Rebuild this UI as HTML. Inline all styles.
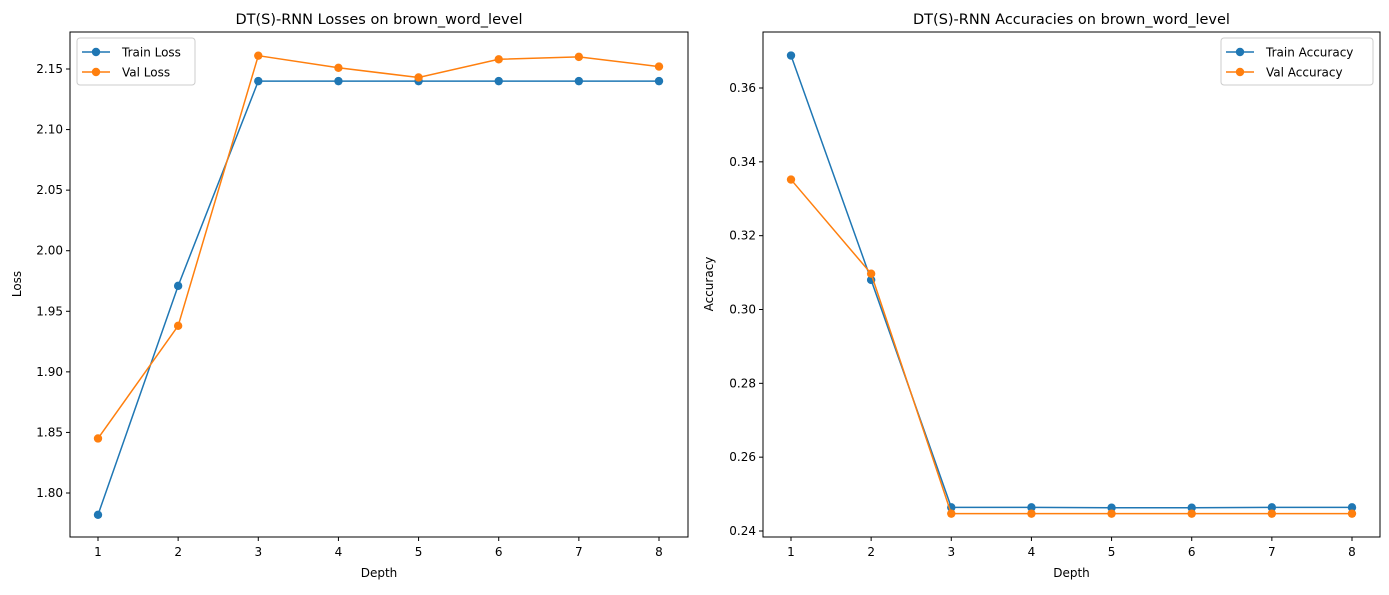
<!DOCTYPE html>
<html><head><meta charset="utf-8"><style>
body{margin:0;background:#fff;}
svg{font-family:"DejaVu Sans","Liberation Sans",sans-serif;}
</style></head><body>
<svg id="c" width="1389" height="590"></svg>
<script>
const depths=[1,2,3,4,5,6,7,8];
const trainLoss=[1.782,1.971,2.140,2.140,2.140,2.140,2.140,2.140];
const valLoss=[1.845,1.938,2.161,2.151,2.143,2.158,2.160,2.152];
const trainAcc=[0.3688,0.308,0.2464,0.2464,0.2463,0.2463,0.2464,0.2464];
const valAcc=[0.3352,0.3097,0.2447,0.2447,0.2447,0.2447,0.2447,0.2447];
const lossTicks=[1.80,1.85,1.90,1.95,2.00,2.05,2.10,2.15];
const accTicks=[0.24,0.26,0.28,0.30,0.32,0.34,0.36];
const NS="http://www.w3.org/2000/svg";
const svg=document.getElementById('c');
function mk(t,a,p){const e=document.createElementNS(NS,t);for(const k in a)e.setAttribute(k,a[k]);(p||svg).appendChild(e);return e;}
function panel(o){
 const g=mk('g',{});
 
 
 const x=d=>o.x1+(d-1)*(o.x8-o.x1)/7;
 const y=v=>o.yA+(v-o.vA)*(o.yB-o.yA)/(o.vB-o.vA);
 mk('rect',{x:o.L,y:32,width:o.R-o.L,height:505,fill:'none',stroke:'#000','stroke-width':1},g);
 depths.forEach(d=>{mk('line',{x1:x(d),x2:x(d),y1:537,y2:541,stroke:'#000'},g);
  const t=mk('text',{x:x(d),y:556,'font-size':12,'text-anchor':'middle'},g);t.textContent=d;});
 o.ticks.forEach(v=>{mk('line',{x1:o.L-4,x2:o.L,y1:y(v),y2:y(v),stroke:'#000'},g);
  const t=mk('text',{x:o.L-7,y:y(v)+4,'font-size':12,'text-anchor':'end'},g);t.textContent=v.toFixed(2);});
 let t=mk('text',{x:(o.L+o.R)/2,y:577,'font-size':12,'text-anchor':'middle'},g);t.textContent='Depth';
 
 t=mk('text',{x:0,y:0,'font-size':12,'text-anchor':'middle',transform:`translate(${o.yl},284) rotate(-90)`},g);t.textContent=o.ylabel;
 
 t=mk('text',{x:(o.L+o.R)/2,y:24,'font-size':14.5,'text-anchor':'middle'},g);t.textContent=o.title;
 
 o.series.forEach(s=>{
  const l=mk('polyline',{points:s.v.map((v,i)=>x(depths[i])+','+y(v)).join(' '),fill:'none',stroke:s.c,'stroke-width':1.5},g);
  
  s.v.forEach((v,i)=>{const c=mk('circle',{cx:x(depths[i]),cy:y(v),r:4.2,fill:s.c},g);
   });
 });
 const lg=mk('g',{},g);
 mk('rect',{x:o.lx,y:38,width:o.lw,height:47,rx:3,fill:'#fff',stroke:'#ccc'},lg);
 o.series.forEach((s,i)=>{const yy=52+i*20;
  mk('line',{x1:o.lx+5,x2:o.lx+33,y1:yy,y2:yy,stroke:s.c,'stroke-width':1.5},lg);
  mk('circle',{cx:o.lx+19,cy:yy,r:4.2,fill:s.c},lg);
  const tt=mk('text',{x:o.lx+45,y:yy+4.5,'font-size':12},lg);tt.textContent=s.label;});
}
panel({name:'loss-panel',L:70,R:688,x1:98,x8:659,vA:2.15,yA:69,vB:1.80,yB:493,ticks:lossTicks,yl:21,ylabel:'Loss',
 title:'DT(S)-RNN Losses on brown_word_level',lx:77,lw:118,
 series:[{n:'train-loss',v:trainLoss,c:'#1f77b4',label:'Train Loss'},{n:'val-loss',v:valLoss,c:'#ff7f0e',label:'Val Loss'}]});
panel({name:'accuracy-panel',L:763,R:1380,x1:791,x8:1352,vA:0.36,yA:88,vB:0.24,yB:531,ticks:accTicks,yl:713,ylabel:'Accuracy',
 title:'DT(S)-RNN Accuracies on brown_word_level',lx:1221,lw:152,
 series:[{n:'train-accuracy',v:trainAcc,c:'#1f77b4',label:'Train Accuracy'},{n:'val-accuracy',v:valAcc,c:'#ff7f0e',label:'Val Accuracy'}]});
</script>
</body></html>
